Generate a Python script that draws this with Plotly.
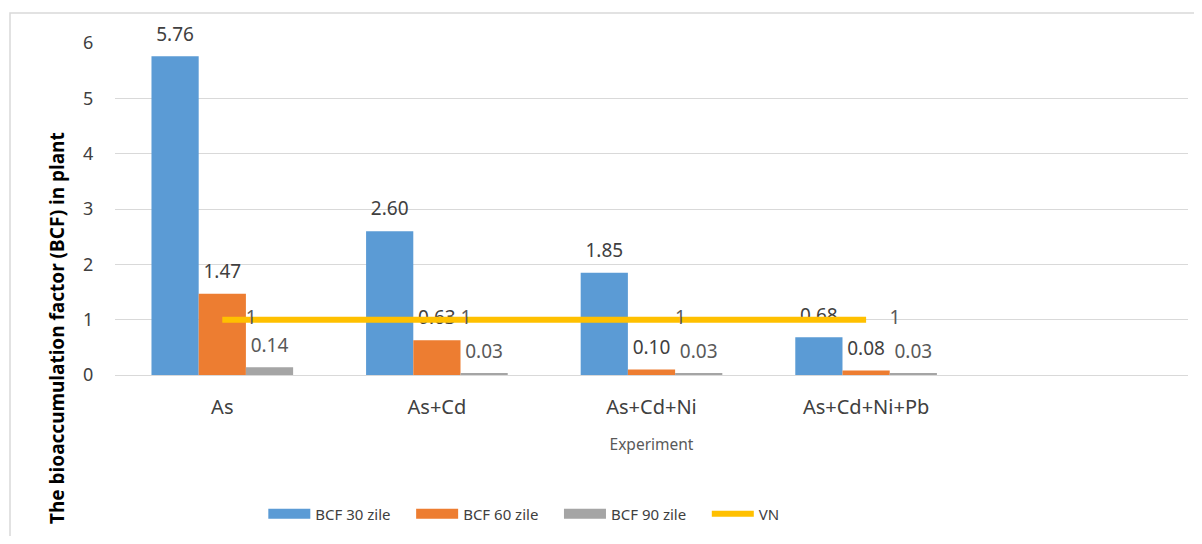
import plotly.graph_objects as go

categories = ["As", "As+Cd", "As+Cd+Ni", "As+Cd+Ni+Pb"]
bcf30 = [5.76, 2.60, 1.85, 0.68]
bcf60 = [1.47, 0.63, 0.10, 0.08]
bcf90 = [0.14, 0.03, 0.03, 0.03]
vn = [1, 1, 1, 1]
ytick_vals = [0, 1, 2, 3, 4, 5, 6]

FONT = "Noto Sans"
xpos = list(range(len(categories)))
BW = 0.22
PAD = "\u00a0" * 4
series = [
    ("BCF 30 zile", bcf30, "#5B9BD5", "#404040", -1.5 * BW),
    ("BCF 60 zile", bcf60, "#ED7D31", "#404040", -0.5 * BW),
    ("BCF 90 zile", bcf90, "#A5A5A5", "#595959", 0.5 * BW),
]

fig = go.Figure()
for name, vals, col, tcol, off in series:
    fig.add_trace(go.Bar(x=xpos, y=vals, name=name, width=BW, offset=off,
                         marker=dict(color=col, line=dict(width=0)), showlegend=False))
for name, vals, col, tcol, off in series:
    fig.add_trace(go.Scatter(x=[p + off + BW / 2 for p in xpos], y=vals, mode="markers+text",
                             marker=dict(size=16, color="rgba(0,0,0,0)"),
                             text=[f"{v:.2f}" for v in vals], textposition="top center",
                             textfont=dict(color=tcol, size=19, family=FONT),
                             showlegend=False, hoverinfo="skip", cliponaxis=False))
fig.add_trace(go.Scatter(x=xpos, y=vn, name="VN", mode="lines+markers+text",
                         line=dict(color="#FFC000", width=6),
                         marker=dict(size=36, color="rgba(0,0,0,0)"),
                         text=[str(v) for v in vn], textposition="middle right",
                         textfont=dict(color="#595959", size=19, family=FONT),
                         showlegend=False, cliponaxis=False))
# legend keys
for name, vals, col, tcol, off in series:
    fig.add_trace(go.Scatter(x=[None], y=[None], mode="lines", name=name + PAD,
                             line=dict(color=col, width=12)))
fig.add_trace(go.Scatter(x=[None], y=[None], mode="lines", name="VN",
                         line=dict(color="#FFC000", width=6)))

fig.update_layout(
    width=1186, height=528,
    margin=dict(l=107, r=6, t=35, b=161),
    paper_bgcolor="white", plot_bgcolor="white",
    font=dict(family=FONT, color="#404040"),
    showlegend=True,
    legend=dict(orientation="h", x=0.381, xanchor="center", y=-0.419, yanchor="middle",
                font=dict(size=15, color="#404040", family=FONT), traceorder="normal",
                itemwidth=42),
    xaxis=dict(range=[-0.5, 4.5], tickvals=xpos, ticktext=categories, showgrid=False,
               zeroline=False, showline=True, linecolor="#D9D9D9", linewidth=1,
               ticks="outside", ticklen=14, tickcolor="rgba(0,0,0,0)",
               tickfont=dict(size=20, color="#404040", family=FONT),
               title=dict(text="Experiment", font=dict(size=15.5, color="#595959", family=FONT), standoff=20)),
    yaxis=dict(range=[0, 6], tickvals=ytick_vals, showgrid=True, gridcolor="#D9D9D9", gridwidth=1,
               zeroline=False, showline=False,
               ticks="outside", ticklen=17, tickcolor="rgba(0,0,0,0)",
               tickfont=dict(size=18, color="#404040", family=FONT)),
    annotations=[dict(text="<b>The bioaccumulation factor (BCF) in plant</b>", textangle=-90,
                      xref="paper", yref="paper", x=-58 / 1073, y=47 / 332,
                      xanchor="center", yanchor="middle", showarrow=False,
                      font=dict(size=19, color="#000000", family=FONT))],
)
fig.add_shape(type="rect", xref="paper", yref="paper", x0=-105 / 1073, x1=1.02, y0=-0.55, y1=1.0904,
              line=dict(color="#D9D9D9", width=1.5), fillcolor="rgba(0,0,0,0)", layer="below")

fig.write_html("out.html")
